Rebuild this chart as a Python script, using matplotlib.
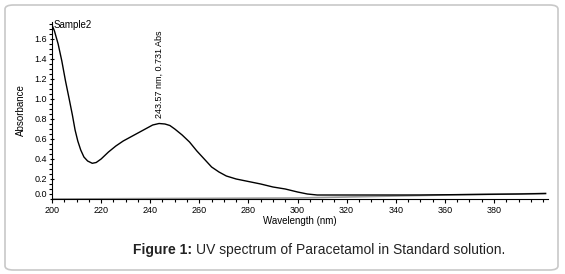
import matplotlib
matplotlib.use("Agg")
import matplotlib.pyplot as plt
from matplotlib.patches import FancyBboxPatch
from matplotlib.ticker import MultipleLocator

plt.rcParams["font.family"] = ["Liberation Sans", "DejaVu Sans"]

# Spectrum
wavelength = [200, 201, 202.5, 204, 205.5, 207, 208.3, 209.4, 210.5, 211.7, 213,
              214.5, 216.4, 218, 220, 223, 226, 229, 232, 235, 238, 241, 243.6,
              246, 248, 250, 253, 256, 259, 262, 265, 268, 271, 275, 280, 285,
              290, 295, 300, 304, 308, 315, 330, 350, 370, 390, 401]
absorbance = [1.74, 1.68, 1.55, 1.38, 1.18, 1.00, 0.84, 0.69, 0.58, 0.49, 0.42,
              0.38, 0.357, 0.365, 0.40, 0.47, 0.53, 0.58, 0.62, 0.66, 0.70, 0.74, 0.755,
              0.75, 0.735, 0.70, 0.64, 0.57, 0.48, 0.40, 0.32, 0.27, 0.23, 0.20, 0.175, 0.15,
              0.12, 0.10, 0.07, 0.05, 0.04, 0.04, 0.04, 0.04, 0.045, 0.05, 0.055]

# faint grey baseline trace
base_wl = [200, 300, 320, 360, 401]
base_abs = [0.0, 0.01, 0.02, 0.04, 0.055]

peak_wl = 243.57
peak_abs = 0.731
peak_text = "243.57 nm, 0.731 Abs"

fig = plt.figure(figsize=(5.65, 2.74), dpi=100)

# rounded frame around the whole figure
frame = FancyBboxPatch((5 / 565, 4 / 274), 553 / 565, 265 / 274,
                       boxstyle="round,pad=0,rounding_size=0.015",
                       transform=fig.transFigure, fc="none", ec="#c8c8c8", lw=1.2)
fig.patches.append(frame)

ax = fig.add_axes([52 / 565, 1 - 199 / 274, 496 / 565, 177 / 274])
ax.patch.set_alpha(0)
ax.plot(base_wl, base_abs, color="#999999", lw=1.2)
ax.plot(wavelength, absorbance, color="black", lw=1.0)

ax.set_xlim(200, 402)
ax.set_ylim(0, 1.77)
for s in ["top", "right"]:
    ax.spines[s].set_visible(False)
ax.xaxis.set_major_locator(MultipleLocator(20))
ax.xaxis.set_minor_locator(MultipleLocator(5))
ax.yaxis.set_major_locator(MultipleLocator(0.2))
ax.yaxis.set_minor_locator(MultipleLocator(0.05))
ax.tick_params(axis="both", labelsize=6.5, width=0.8, length=3, pad=2)
ax.tick_params(axis="both", which="minor", width=0.8, length=2)
ax.tick_params(axis="y", direction="inout")
ax.tick_params(axis="x", direction="out")
ax.set_xticks(range(200, 381, 20))
ax.set_yticks([round(0.2 * i, 1) for i in range(9)])
ax.set_yticklabels(["%.1f" % (0.2 * i) for i in range(9)])
ax.get_yticklabels()[0].set_va("bottom")

ax.set_xlabel("Wavelength (nm)", fontsize=7, labelpad=1)
ax.set_ylabel("Absorbance", fontsize=7, labelpad=6)

ax.text(200.8, 1.735, "Sample2", fontsize=7, va="center", ha="left")
ax.annotate(peak_text, (peak_wl, 0.755), xytext=(0, 4), textcoords="offset points",
            rotation=90, fontsize=6.5, ha="center", va="bottom")

# caption with bold prefix
t1 = fig.text(133 / 565, 1 - 250 / 274, "Figure 1: ", fontsize=10, fontweight="bold",
              color="#222222", va="center", ha="left")
fig.canvas.draw()
bb = t1.get_window_extent()
fig.text(bb.x1 / fig.bbox.width, 1 - 250 / 274, "UV spectrum of Paracetamol in Standard solution.",
         fontsize=10, color="#222222", va="center", ha="left")

fig.savefig("out.png", dpi=100)
